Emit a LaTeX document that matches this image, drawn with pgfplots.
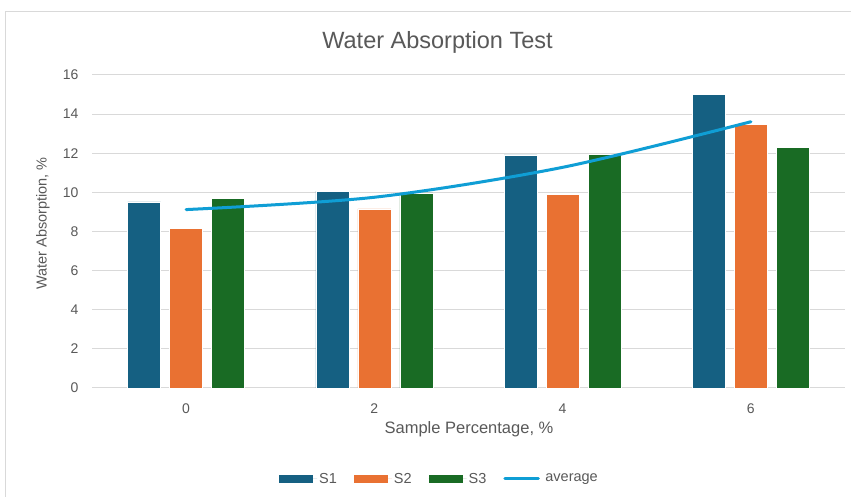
\documentclass[border=0pt]{standalone}
\usepackage{pgfplots}
\pgfplotsset{compat=1.18}
\usepackage{fontspec}
\setmainfont{Liberation Sans}
\definecolor{cSone}{HTML}{156082}
\definecolor{cStwo}{HTML}{E97132}
\definecolor{cSthree}{HTML}{196B24}
\definecolor{cAvg}{HTML}{0F9ED5}
\definecolor{gridc}{HTML}{D9D9D9}
\definecolor{textc}{HTML}{595959}
\begin{document}
\begin{tikzpicture}
\path[use as bounding box, fill=white] (0pt,0pt) rectangle (851pt,497pt);
\draw[color=gridc, line width=1pt] (5pt,0pt) -- (5pt,485pt) -- (851pt,485pt);
\node[text=textc, font=\fontsize{23.5}{26}\selectfont] at (437.5pt,455pt) {Water Absorption Test};
\node[text=textc, font=\fontsize{16.5}{19}\selectfont] at (469pt,68pt) {Sample Percentage, \%};
\node[text=textc, font=\fontsize{14.5}{17}\selectfont, rotate=90] at (43pt,273.5pt) {Water Absorption, \%};
\begin{axis}[
  at={(92pt,109pt)}, anchor=south west, scale only axis,
  width=753pt, height=313pt,
  xmin=-1, xmax=7, ymin=0, ymax=16,
  ytick={0,2,...,16}, xtick={0,2,4,6},
  ymajorgrids, major grid style={color=gridc, line width=1pt},
  axis line style={draw=none},
  tick style={draw=none},
  ticklabel style={color=textc, font=\fontsize{14}{16}\selectfont},
  /pgf/number format/assume math mode=true,
  yticklabel style={xshift=-10pt},
  xticklabel style={yshift=-8pt},
  ybar, bar width=33pt,
  legend style={at={(axis description cs:0.4615,-0.2898)}, anchor=center, draw=none,
    font=\fontsize{14.5}{16}\selectfont, text=textc,
    /tikz/every even column/.append style={column sep=15pt}},
  legend columns=4,
]
\addplot[fill=cSone, draw=white, line width=0.3pt, bar shift=-42pt,
  legend image code/.code={\fill[cSone, draw=none] (0pt,-4pt) rectangle (34pt,4pt); \path[draw=none] (0pt,0pt) -- (38pt,0pt);}]
  coordinates {(0,9.52) (2,10.07) (4,11.92) (6,15.01)};
\addlegendentry{S1}
\addplot[fill=cStwo, draw=white, line width=0.3pt, bar shift=0pt,
  legend image code/.code={\fill[cStwo, draw=none] (0pt,-4pt) rectangle (34pt,4pt); \path[draw=none] (0pt,0pt) -- (38pt,0pt);}]
  coordinates {(0,8.16) (2,9.15) (4,9.90) (6,13.49)};
\addlegendentry{S2}
\addplot[fill=cSthree, draw=white, line width=0.3pt, bar shift=42pt,
  legend image code/.code={\fill[cSthree, draw=none] (0pt,-4pt) rectangle (34pt,4pt); \path[draw=none] (0pt,0pt) -- (38pt,0pt);}]
  coordinates {(0,9.69) (2,9.98) (4,11.96) (6,12.30)};
\addlegendentry{S3}
\addplot[sharp plot, smooth, color=cAvg, line width=3pt, line cap=round, mark=none,
  legend image code/.code={\draw[cAvg, line width=3pt, line cap=round] (1.5pt,0pt) -- (35pt,0pt); \path[draw=none] (0pt,0pt) -- (40pt,0pt);}]
  coordinates {(0,9.12) (2,9.75) (4,11.28) (6,13.61)};
\addlegendentry{average}
\end{axis}
\end{tikzpicture}
\end{document}
